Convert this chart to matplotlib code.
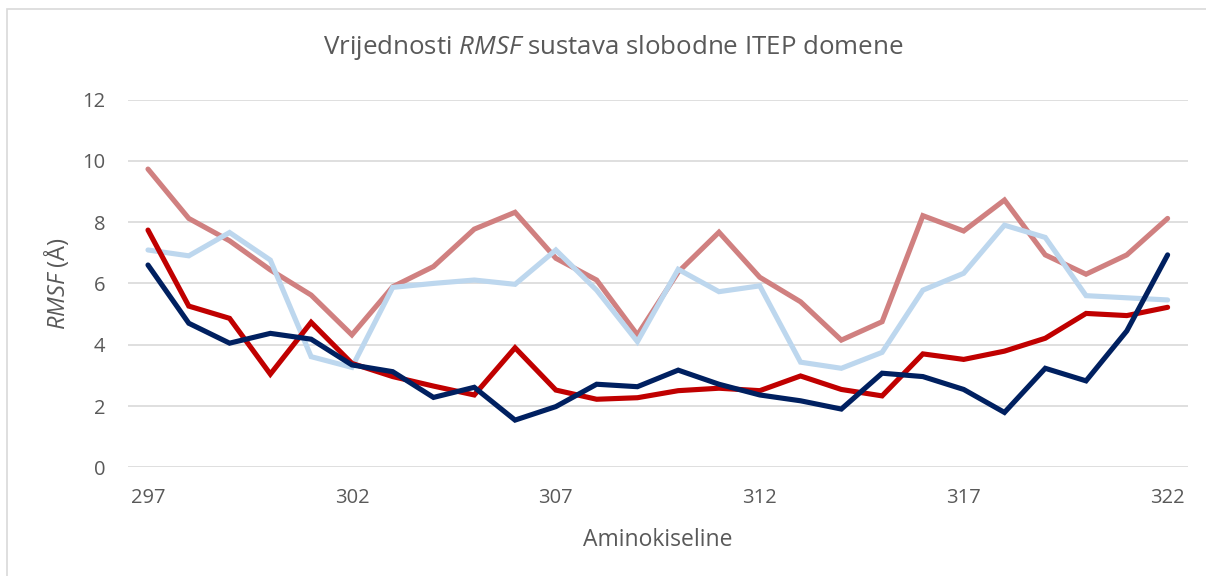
import matplotlib
matplotlib.use('Agg')
import matplotlib.pyplot as plt
from matplotlib.patches import Rectangle

plt.rcParams['font.family'] = ['Open Sans', 'DejaVu Sans']
plt.rcParams['mathtext.fontset'] = 'custom'
plt.rcParams['mathtext.rm'] = 'Open Sans'
plt.rcParams['mathtext.it'] = 'Open Sans:italic'

residues = list(range(297, 323))

rmsf_pink = [9.73, 8.12, 7.39, 6.44, 5.62, 4.32, 5.89, 6.55, 7.77, 8.32,
             6.82, 6.11, 4.32, 6.37, 7.67, 6.20, 5.40, 4.15, 4.75, 8.21,
             7.71, 8.72, 6.93, 6.30, 6.93, 8.12]
rmsf_lightblue = [7.09, 6.90, 7.66, 6.76, 3.61, 3.26, 5.87, 6.00, 6.11, 5.97,
                  7.09, 5.78, 4.10, 6.46, 5.73, 5.92, 3.43, 3.23, 3.75, 5.78,
                  6.33, 7.90, 7.50, 5.60, 5.53, 5.46]
rmsf_red = [7.74, 5.26, 4.86, 3.04, 4.73, 3.39, 2.96, 2.65, 2.36, 3.90,
            2.52, 2.22, 2.27, 2.50, 2.58, 2.50, 2.98, 2.54, 2.33, 3.70,
            3.52, 3.79, 4.21, 5.02, 4.95, 5.22]
rmsf_navy = [6.60, 4.70, 4.05, 4.37, 4.18, 3.34, 3.12, 2.28, 2.61, 1.54,
             1.98, 2.71, 2.63, 3.17, 2.71, 2.36, 2.17, 1.90, 3.07, 2.96,
             2.54, 1.79, 3.23, 2.82, 4.45, 6.93]

x_ticks = [297, 302, 307, 312, 317, 322]
y_ticks = [0, 2, 4, 6, 8, 10, 12]

fig = plt.figure(figsize=(12.06, 5.76), dpi=100)

# light grey frame around the chart area
fig.patches.append(Rectangle((7 / 1206, -0.01), 1.0, 1 - 9 / 576 + 0.01,
                             transform=fig.transFigure, fill=False,
                             edgecolor='#D9D9D9', linewidth=1.2))

ax = fig.add_axes([127.6 / 1206, 1 - 467.3 / 576, (1188 - 127.6) / 1206,
                   (467.3 - 99.5) / 576])

for vals, color in ((rmsf_pink, '#D08080'), (rmsf_lightblue, '#BDD7EE'),
                    (rmsf_red, '#C00000'), (rmsf_navy, '#002060')):
    ax.plot(residues, vals, color=color, linewidth=3.7,
            solid_joinstyle='miter', solid_capstyle='round', zorder=3)

ax.set_xlim(296.5, 322.5)
ax.set_ylim(0, 12)
ax.set_xticks(x_ticks)
ax.set_yticks(y_ticks)
ax.tick_params(length=0, labelsize=14.5, labelcolor='#595959')
ax.tick_params(axis='y', pad=16)
ax.tick_params(axis='x', pad=15)
ax.grid(axis='y', color='#D9D9D9', linewidth=1.2, zorder=0)
for s in ax.spines.values():
    s.set_visible(False)

ax.set_xlabel('Aminokiseline', fontsize=16.5, color='#595959', labelpad=14)
ax.set_ylabel(r'$\it{RMSF}$ (Å)', fontsize=17, color='#595959', labelpad=8)

fig.text(613 / 1206, 1 - 48 / 576,
         r'Vrijednosti $\it{RMSF}$ sustava slobodne ITEP domene',
         ha='center', va='center', fontsize=18.6, color='#595959')

fig.savefig('out.png', dpi=100)
